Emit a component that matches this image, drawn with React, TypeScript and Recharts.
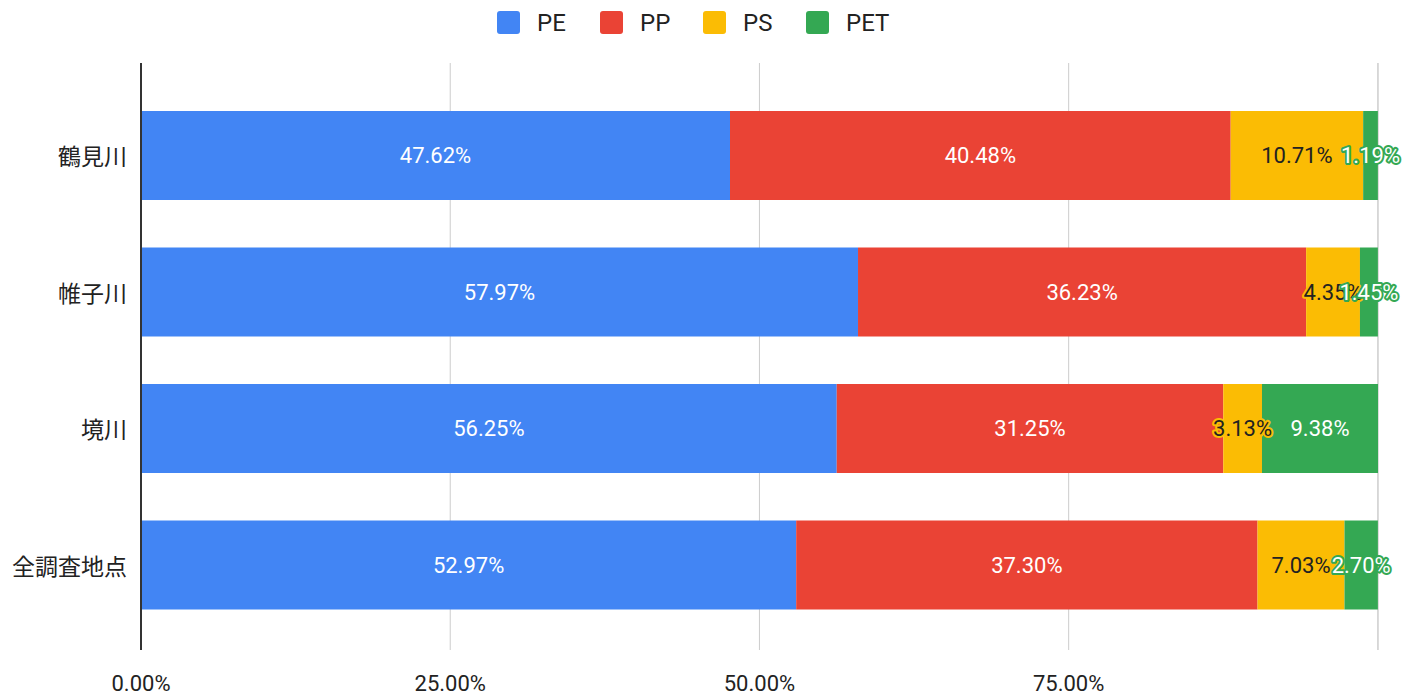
import { BarChart, Bar, XAxis, YAxis, CartesianGrid, Legend, LabelList } from 'recharts'

const sites = ['鶴見川', '帷子川', '境川', '全調査地点']
const pe = [47.62, 57.97, 56.25, 52.97]
const pp = [40.48, 36.23, 31.25, 37.3]
const ps = [10.71, 4.35, 3.13, 7.03]
const pet = [1.19, 1.45, 9.38, 2.7]
const xTicks = [0, 25, 50, 75, 100]

const series = [
  { key: 'PE', color: '#4285F4', text: '#ffffff' },
  { key: 'PP', color: '#EA4335', text: '#ffffff' },
  { key: 'PS', color: '#FBBC04', text: '#222222' },
  { key: 'PET', color: '#34A853', text: '#ffffff' },
]

const data = sites.map((name, i) => ({ name, PE: pe[i], PP: pp[i], PS: ps[i], PET: pet[i] }))

const FONT = 'Roboto, "Noto Sans", sans-serif'

function makeLabel(color: string, text: string) {
  return (props: any) => {
    const { x, y, width, height, value } = props
    return (
      <text
        x={x + width / 2}
        y={y + height / 2}
        textAnchor="middle"
        dominantBaseline="central"
        fontFamily={FONT}
        fontSize={22}
        fill={text}
        stroke={color}
        strokeWidth={4}
        strokeLinejoin="round"
        style={{ paintOrder: 'stroke' }}
      >
        {Number(value).toFixed(2)}%
      </text>
    )
  }
}

function XTick(props: any) {
  const { x, y, payload } = props
  if (payload.value === 100) return null
  return (
    <text x={x} y={y} dy={33} textAnchor="middle" fontFamily={FONT} fontSize={22} fill="#222">
      {payload.value.toFixed(2)}%
    </text>
  )
}

function YTick(props: any) {
  const { x, y, payload } = props
  return (
    <text
      x={x - 6}
      y={y}
      textAnchor="end"
      dominantBaseline="central"
      fontFamily='"Noto Sans CJK JP", sans-serif'
      fontSize={23}
      fill="#222"
    >
      {payload.value}
    </text>
  )
}

function LegendBox() {
  return (
    <div style={{ display: 'flex', height: 45, paddingLeft: 497, alignItems: 'center' }}>
      {series.map((s) => (
        <div key={s.key} style={{ display: 'flex', alignItems: 'center', width: 103 }}>
          <div style={{ width: 23, height: 23, borderRadius: 3, background: s.color }} />
          <span style={{ marginLeft: 17, fontFamily: FONT, fontSize: 24, color: '#222' }}>{s.key}</span>
        </div>
      ))}
    </div>
  )
}

export default function App() {
  return (
    <div style={{ position: 'absolute', left: 0, top: 0, background: '#fff' }}>
      <BarChart
        width={1404}
        height={693}
        data={data}
        layout="vertical"
        margin={{ top: 18, right: 26, bottom: 0, left: 0 }}
      >
        <CartesianGrid horizontal={false} stroke="#cccccc" />
        <XAxis
          type="number"
          domain={[0, 100]}
          ticks={xTicks}
          height={43}
          axisLine={false}
          tickLine={false}
          tick={<XTick />}
          interval={0}
        />
        <YAxis
          type="category"
          dataKey="name"
          width={141}
          axisLine={{ stroke: '#333', strokeWidth: 2 }}
          tickLine={false}
          tick={<YTick />}
          padding={{ top: 24, bottom: 17 }}
        />
        <Legend verticalAlign="top" content={<LegendBox />} wrapperStyle={{ top: 0, left: 0, width: 1404 }} />
        {series.map((s) => (
          <Bar key={s.key} dataKey={s.key} stackId="a" fill={s.color} barSize={89} isAnimationActive={false}>
            <LabelList dataKey={s.key} content={makeLabel(s.color, s.text)} />
          </Bar>
        ))}
      </BarChart>
    </div>
  )
}
